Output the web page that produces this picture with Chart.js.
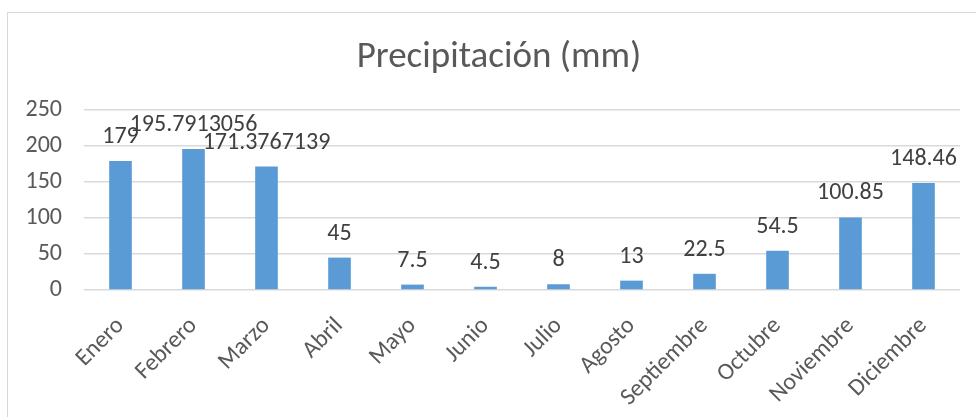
<!DOCTYPE html>
<html><head><meta charset="utf-8">
<script src="https://cdn.jsdelivr.net/npm/chart.js@4.4.1/dist/chart.umd.min.js"></script>
<style>
html,body{margin:0;padding:0;background:#fff;overflow:hidden;width:976px;height:417px}
#box{position:absolute;left:7px;top:12px;width:983px;height:405px;border-left:1px solid #d9d9d9;border-top:1px solid #d9d9d9;background:#fff}
#box canvas{display:block}
</style></head><body>
<div id="box"><canvas id="c" width="982" height="404" style="width:982px;height:404px"></canvas></div>
<script>
const categories = ['Enero','Febrero','Marzo','Abril','Mayo','Junio','Julio','Agosto','Septiembre','Octubre','Noviembre','Diciembre'];
const precipitation = [179, 195.7913056, 171.3767139, 45, 7.5, 4.5, 8, 13, 22.5, 54.5, 100.85, 148.46];
const yTickValues = [0, 50, 100, 150, 200, 250];
const chartTitle = 'Precipitación (mm)';

const FONT = 'Carlito, Calibri, Lato, sans-serif';

const dataLabels = {
  id: 'dataLabels',
  afterDatasetsDraw(chart) {
    const ctx = chart.ctx;
    const meta = chart.getDatasetMeta(0);
    const ds = chart.data.datasets[0];
    ctx.save();
    ctx.font = '24px ' + FONT;
    ctx.fillStyle = '#404040';
    ctx.textAlign = 'center';
    ctx.textBaseline = 'alphabetic';
    meta.data.forEach((bar, i) => {
      ctx.fillText(String(ds.data[i]), bar.x, bar.y - 18);
    });
    ctx.restore();
  }
};

// centre the title over the whole chart box (not only the padded area)
const titleSpan = {
  id: 'titleSpan',
  afterLayout(chart) {
    if (chart.titleBlock) {
      chart.titleBlock.left = 0;
      chart.titleBlock.right = chart.width;
    }
  }
};

new Chart(document.getElementById('c'), {
  type: 'bar',
  data: {
    labels: categories,
    datasets: [{
      data: precipitation,
      backgroundColor: '#5B9BD5',
      borderWidth: 0,
      categoryPercentage: 1,
      barPercentage: 0.31
    }]
  },
  options: {
    responsive: false,
    animation: false,
    devicePixelRatio: 1,
    layout: { padding: { left: 0, right: 30, top: 0, bottom: 0 } },
    plugins: {
      legend: { display: false },
      tooltip: { enabled: false },
      title: {
        display: true,
        text: chartTitle,
        color: '#595959',
        font: { family: FONT, size: 37, weight: 'normal', lineHeight: 1.2 },
        padding: { top: 23, bottom: 29.6 }
      }
    },
    scales: {
      y: {
        min: 0, max: 250,
        afterFit(scale) { scale.width = 76; },
        afterBuildTicks(scale) { scale.ticks = yTickValues.map(v => ({ value: v })); },
        grid: { color: '#D9D9D9', lineWidth: 1.5, drawTicks: false },
        border: { display: false },
        ticks: { color: '#595959', padding: 22, font: { family: FONT, size: 24 } }
      },
      x: {
        afterFit(scale) { scale.height = 127; },
        grid: { display: false, drawTicks: false },
        border: { display: false },
        ticks: {
          color: '#595959', autoSkip: false, minRotation: 45, maxRotation: 45,
          padding: 22, font: { family: FONT, size: 24 }
        }
      }
    }
  },
  plugins: [dataLabels, titleSpan]
});
</script>
</body></html>
